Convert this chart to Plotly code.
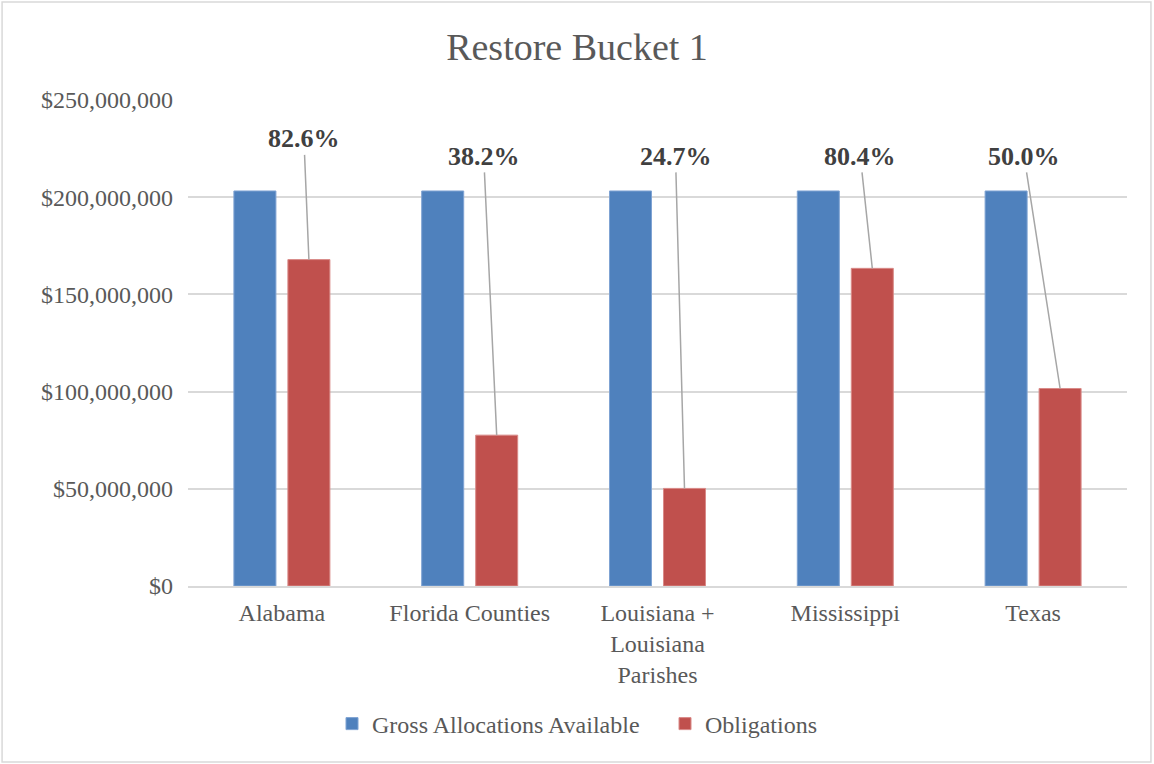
import plotly.graph_objects as go

categories = ["Alabama", "Florida Counties", "Louisiana +<br>Louisiana<br>Parishes", "Mississippi", "Texas"]
gross_available = [203200000, 203200000, 203200000, 203200000, 203200000]
obligations = [167900000, 77600000, 50200000, 163400000, 101600000]
pct_labels = ["82.6%", "38.2%", "24.7%", "80.4%", "50.0%"]
tick_vals = [0, 50000000, 100000000, 150000000, 200000000, 250000000]
tick_text = ["$0", "$50,000,000", "$100,000,000", "$150,000,000", "$200,000,000", "$250,000,000"]

# label placement (pixel offset from bar top, label height in data units)
label_ax = [-5, -13, -9, -12, -36]
label_y = [230000000, 221000000, 221000000, 221000000, 221000000]

font_family = "Liberation Serif"
grey_text = "#595959"

fig = go.Figure()
fig.add_trace(go.Bar(x=categories, y=gross_available, name="Gross Allocations Available",
                     marker=dict(color="#4f81bd", line=dict(color="#7fa3d3", width=1))))
fig.add_trace(go.Bar(x=categories, y=obligations, name="Obligations",
                     marker=dict(color="#c0504d", line=dict(color="#d98a88", width=1))))

for i in range(len(categories)):
    fig.add_annotation(x=categories[i], y=obligations[i], xshift=27,
                       text="<b>" + pct_labels[i] + "</b>",
                       showarrow=True, arrowhead=0, arrowwidth=1.5, arrowcolor="#a6a6a6",
                       standoff=0, ax=label_ax[i], ay=label_y[i], ayref="y",
                       font=dict(family=font_family, size=26, color="#404040"))

# outer chart border
fig.add_shape(type="rect", xref="paper", yref="paper",
              x0=-0.198, x1=1.0255, y0=-0.362, y1=1.2016,
              line=dict(color="#d9d9d9", width=1.5), layer="below")

fig.update_layout(
    width=1154, height=764,
    margin=dict(l=188, r=27, t=100, b=178),
    paper_bgcolor="white", plot_bgcolor="white",
    title=dict(text="Restore Bucket 1", x=0.5, xanchor="center", y=1 - 47 / 764, yanchor="middle",
               font=dict(family=font_family, size=38, color=grey_text)),
    font=dict(family=font_family, size=24, color=grey_text),
    barmode="group", bargap=0.425, bargroupgap=0.222,
    legend=dict(orientation="h", x=0.508, xanchor="center", y=-0.284, yanchor="middle",
                font=dict(family=font_family, size=24, color=grey_text), itemwidth=30,
                entrywidth=288, entrywidthmode="pixels"),
    showlegend=True,
)
fig.update_yaxes(range=[0, 250000000], tickvals=tick_vals, ticktext=tick_text,
                 showgrid=True, gridcolor="#d9d9d9", gridwidth=1.5, zeroline=False,
                 showline=False, ticklabelstandoff=14,
                 tickfont=dict(family=font_family, size=24, color=grey_text))
fig.update_xaxes(showline=True, linecolor="#d9d9d9", linewidth=1.5,
                 tickfont=dict(family=font_family, size=24, color=grey_text),
                 ticklabelstandoff=4)

fig.write_html("out.html", config={"displayModeBar": False},
               post_script="document.body.style.margin='0px';")
